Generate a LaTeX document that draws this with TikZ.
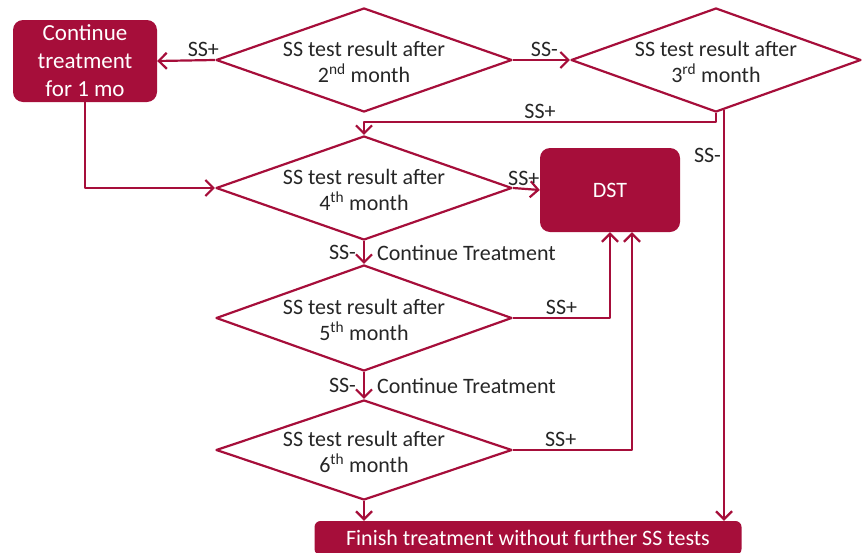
\documentclass[tikz,border=0pt]{standalone}
\usepackage{fontspec}
\setmainfont{Carlito}
\usetikzlibrary{shapes.geometric,arrows.meta}
\definecolor{ssred}{RGB}{166,14,58}
\newcommand{\twolines}[2]{\smash{\raisebox{-9pt}{\begin{tabular}{@{}c@{}}#1\\#2\end{tabular}}}}
\tikzset{
  decision/.style={diamond, draw=ssred, line width=2.2pt, minimum width=296pt, minimum height=104pt, aspect=2.85, inner sep=0pt, text=black!85},
  redbox/.style={rounded corners=10pt, fill=ssred, text=white, align=center, inner sep=0pt},
  flow/.style={draw=ssred, line width=2.2pt, ->},
  lbl/.style={text=black!85, inner sep=2pt, font=\fontsize{22}{26}\selectfont}
}
\begin{document}
\begin{tikzpicture}[x=1pt, y=-1pt, >={Straight Barb[length=8pt,width=16pt]}, font=\fontsize{22}{26}\selectfont, line join=round]
		\useasboundingbox (0,0) rectangle (862,552);
		% boxes
		\node[redbox, minimum width=144pt, minimum height=82pt, font=\fontsize{23}{28}\selectfont] (cont) at (85,61) {Continue\\treatment\\for 1 mo};
		\node[redbox, minimum width=140pt, minimum height=84pt] (dst) at (610,190) {DST};
		\node[redbox, minimum width=427pt, minimum height=34pt, rounded corners=6pt] (fin) at (528,538) {Finish treatment without further SS tests};
		% decisions
		\node[decision] (d2) at (364,60) {\twolines{SS test result after}{2\textsuperscript{nd} month}};
		\node[decision, minimum width=290pt] (d3) at (716,60) {\twolines{SS test result after}{3\textsuperscript{rd} month}};
		\node[decision] (d4) at (364,188) {\twolines{SS test result after}{4\textsuperscript{th} month}};
		\node[decision, minimum height=106pt] (d5) at (364,318) {\twolines{SS test result after}{5\textsuperscript{th} month}};
		\node[decision, minimum height=100pt] (d6) at (364,450) {\twolines{SS test result after}{6\textsuperscript{th} month}};
		% connectors
		\draw[flow] (d2.west) -- node[lbl, above, pos=0.2]{SS+} (cont.east);
		\draw[flow] (d2.east) -- node[lbl, above, pos=0.55]{SS-} (d3.west);
		\draw[flow] (d3.south) -- ++(0,9) -| node[lbl, above, pos=0.25]{SS+} (d4.north);
		\draw[flow] (d3.south) ++(8,-3) coordinate (d3r) -- node[lbl, left, pos=0.11]{SS-} (d3r |- fin.north);
		\draw[flow] (cont.south) |- (d4.west);
		\draw[flow] (d4.east) -- node[lbl, above, pos=0.4]{SS+} (dst.west);
		\draw[flow] (d4.south) -- node[lbl, left=5pt]{SS-} node[lbl, right=10pt]{Continue Treatment} (d5.north);
		\draw[flow] (d5.east) -| node[lbl, above, pos=0.25]{SS+} (dst.south);
		\draw[flow] (d5.south) -- node[lbl, left=5pt]{SS-} node[lbl, right=10pt]{Continue Treatment} (d6.north);
		\draw[flow] (d6.east) -| node[lbl, above, pos=0.2]{SS+} ([xshift=22pt]dst.south);
		\draw[flow] (d6.south) -- (d6.south |- fin.north);
	\end{tikzpicture}
\end{document}
